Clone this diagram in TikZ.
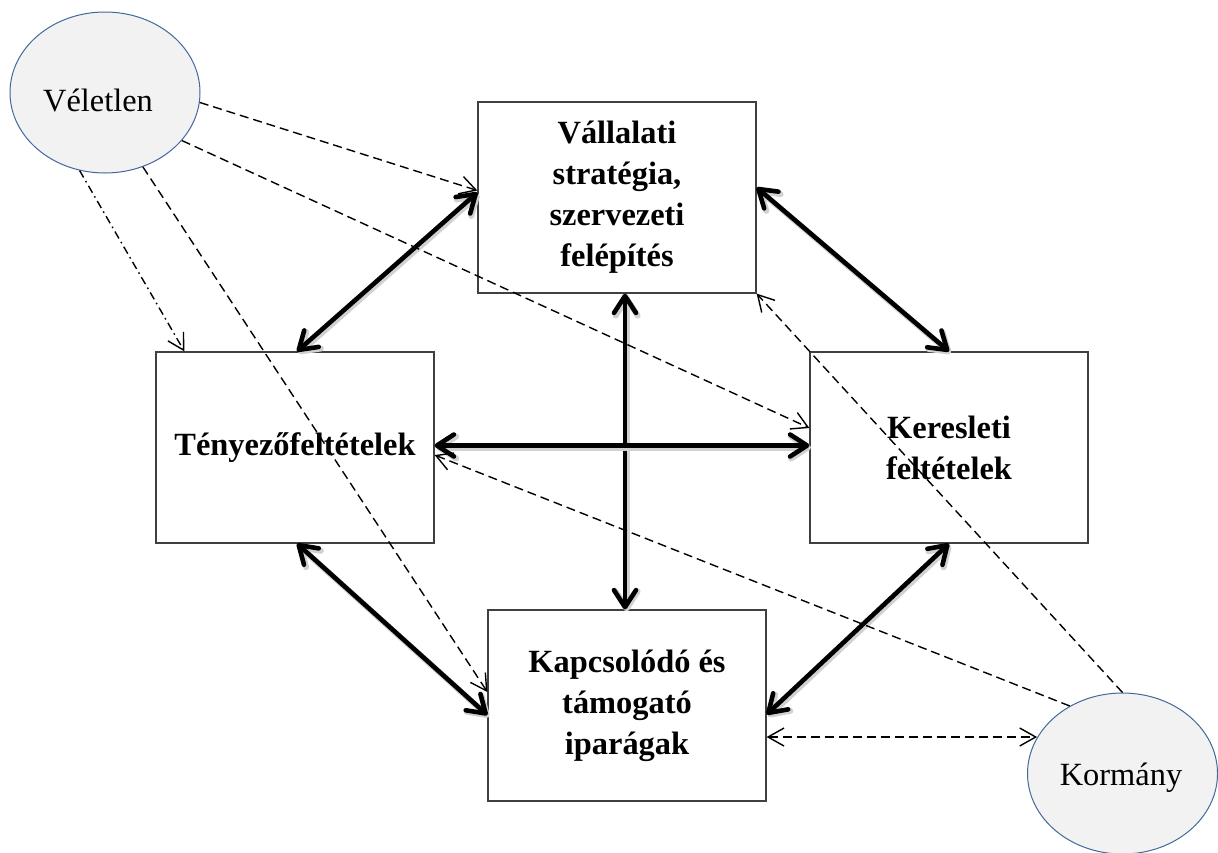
\documentclass[tikz,border=0pt]{standalone}
\usepackage{fontspec}
\setmainfont{Liberation Serif}
\usetikzlibrary{arrows.meta,shapes.geometric,calc}
\definecolor{ovalline}{RGB}{65,105,155}
\begin{document}
\begin{tikzpicture}[x=0.5pt,y=-0.5pt,
  box/.style={draw=black!75, line width=0.6pt, minimum width=139pt, minimum height=95.5pt,
    inner sep=0pt, align=center, font=\bfseries\fontsize{16.2pt}{20.5pt}\selectfont},
  oval/.style={ellipse, draw=ovalline, line width=0.5pt, fill=black!5,
    minimum width=95pt, minimum height=80.5pt, inner sep=0pt},
  lbl/.style={font=\fontsize{16.2pt}{19pt}\selectfont, inner sep=0pt},
  bigarrow/.style={line width=2.3pt, line cap=round, line join=round,
    {Straight Barb[round,length=8.5pt,width=11pt]}-{Straight Barb[round,length=8.5pt,width=11pt]},
    preaction={draw=black!18, line width=3pt, transform canvas={shift={(0.8pt,-1pt)}}}},
  dasharrow/.style={line width=0.7pt, dash pattern=on 4.5pt off 2.5pt,
    -{Straight Barb[length=8pt,width=9pt]}},
  dashdotarrow/.style={line width=0.7pt, dash pattern=on 4pt off 2pt on 0.8pt off 2pt,
    -{Straight Barb[length=8pt,width=9pt]}},
  dashboth/.style={line width=0.7pt, dash pattern=on 4.5pt off 2.5pt,
    {Straight Barb[length=8pt,width=9pt]}-{Straight Barb[length=8pt,width=9pt]}}
]
\useasboundingbox (0,0) rectangle (1218,852);

% boxes
\node[box] (strat) at (617,197.5) {Vállalati\\stratégia,\\szervezeti\\felépítés};
\node[box] (teny) at (295,447.5) {Tényezőfeltételek};
\node[box] (ker) at (949,447.5) {Keresleti\\feltételek};
\node[box] (kap) at (627,705.5) {Kapcsolódó és\\támogató\\iparágak};

% ovals
\node[oval] (vel) at (105,92.5) {};
\node[lbl] (veltext) at (98,100) {Véletlen};
\node[oval] (kor) at (1122.5,773.5) {};
\node[lbl] (kortext) at (1121,778) {Kormány};

% thick double arrows
\draw[bigarrow] ([yshift=2.5pt]strat.west) -- ([xshift=1pt]teny.north);
\draw[bigarrow] ([yshift=5pt]strat.east) -- (ker.north);
\draw[bigarrow] ([xshift=4pt]strat.south) -- ([xshift=4pt]strat.south |- kap.north);
\draw[bigarrow] ([yshift=1pt]teny.east) -- ([yshift=1pt]ker.west);
\draw[bigarrow] ([xshift=1pt]teny.south) -- ([yshift=-4.75pt]kap.west);
\draw[bigarrow] (ker.south) -- ([yshift=-4.5pt]kap.east);

% influences of chance
\draw[dasharrow] (vel.-6) -- ([yshift=3.5pt]strat.west);
\draw[dasharrow] (vel.-32) -- ([yshift=9.75pt]ker.west);
\draw[dasharrow] (vel.-63.7) -- ([yshift=6.75pt]kap.west);
\draw[dashdotarrow] (vel.-108.4) -- ([xshift=14.5pt]teny.north west);

% influences of government
\draw[dasharrow] (kor.north) -- (strat.south east);
\draw[dasharrow] (kor.128.6) -- ([yshift=-3.75pt]teny.east);
\coordinate (korleft) at ([yshift=-15.75pt]kap.east -| kor.157);
\draw[dashboth] ([yshift=-15.75pt]kap.east) -- (korleft);
\end{tikzpicture}
\end{document}
